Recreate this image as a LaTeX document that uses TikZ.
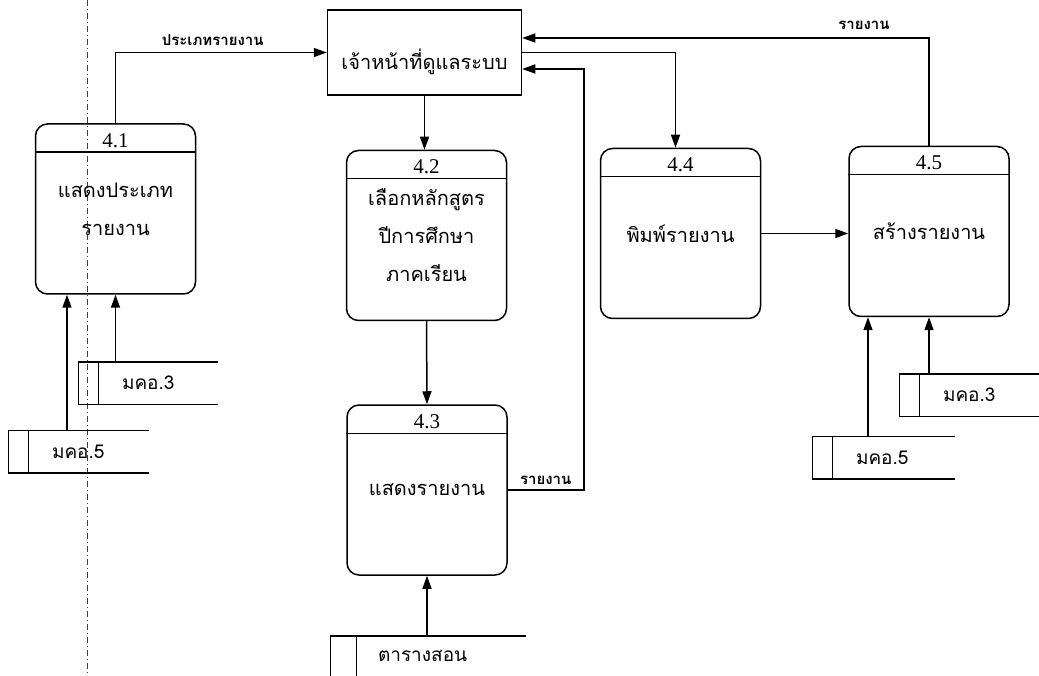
\documentclass[tikz,border=0pt]{standalone}
\usepackage{fontspec}
\setmainfont{Liberation Serif}
\newfontfamily\thai[Script=Thai]{Loma}
\usetikzlibrary{arrows.meta}

\begin{document}
\begin{tikzpicture}[x=1pt, y=-1pt, line width=1.5pt,
  flow/.style={-{Triangle[length=13pt,width=9pt]}},
  process/.style={draw, rounded corners=12pt, minimum width=160pt, minimum height=170pt, align=center, inner sep=0pt, font=\thai\fontsize{20}{38}\selectfont},
  entity/.style={draw, minimum width=194pt, minimum height=85pt, inner sep=0pt, text height=35pt, text depth=0pt, font=\thai\fontsize{20}{20}\selectfont},
  num/.style={inner sep=0pt, font=\fontsize{21}{21}\selectfont},
  store/.style={minimum height=41pt, inner sep=0pt,
    append after command={(\tikzlastnode.north east) edge (\tikzlastnode.north west)
      (\tikzlastnode.north west) edge (\tikzlastnode.south west)
      (\tikzlastnode.south west) edge (\tikzlastnode.south east)
      ([xshift=#1]\tikzlastnode.north west) edge ([xshift=#1]\tikzlastnode.south west)}},
  store/.default=20pt,
  storetext/.style={anchor=west, inner sep=0pt, font=\thai\fontsize{19}{19}\selectfont},
  flowtext/.style={inner sep=0pt, font=\thai\bfseries\fontsize{15}{15}\selectfont},
  scanline/.style={line width=0.6pt, black!75, dash pattern=on 6pt off 3pt on 1pt off 3pt}]
\useasboundingbox (0,0) rectangle (1039,676);
\draw[scanline] (87,0) -- (87,676);

\node[entity] (ent) at (424.5,52.5){เจ้าหน้าที่ดูแลระบบ};

\node[process] (p41) at (115.5,209){แสดงประเภท\\รายงาน};
\node[num] (n41) at ([yshift=-17pt]p41.north){4.1};
\draw ([yshift=-29pt]p41.north west) -- ([yshift=-29pt]p41.north east);
\node[process] (p42) at (426.5,235.5){เลือกหลักสูตร\\ปีการศึกษา\\ภาคเรียน};
\node[num] (n42) at ([yshift=-17pt]p42.north){4.2};
\draw ([yshift=-29pt]p42.north west) -- ([yshift=-29pt]p42.north east);
\node[process] (p43) at (427,490){แสดงรายงาน};
\node[num] (n43) at ([yshift=-17pt]p43.north){4.3};
\draw ([yshift=-29pt]p43.north west) -- ([yshift=-29pt]p43.north east);
\node[process] (p44) at (680.5,233.5){พิมพ์รายงาน};
\node[num] (n44) at ([yshift=-17pt]p44.north){4.4};
\draw ([yshift=-29pt]p44.north west) -- ([yshift=-29pt]p44.north east);
\node[process] (p45) at (929,231.5){สร้างรายงาน};
\node[num] (n45) at ([yshift=-17pt]p45.north){4.5};
\draw ([yshift=-29pt]p45.north west) -- ([yshift=-29pt]p45.north east);

\node[store, minimum width=138pt, label={[storetext, xshift=43pt]west:มคอ.3}] (ds3l) at (148,383){};
\node[store, minimum width=139pt, label={[storetext, xshift=43pt]west:มคอ.5}] (ds5l) at (78.5,451.5){};
\node[store, minimum width=140pt, label={[storetext, xshift=43pt]west:มคอ.3}] (ds3r) at (970,395){};
\node[store, minimum width=141pt, label={[storetext, xshift=43pt]west:มคอ.5}] (ds5r) at (883.5,457.5){};
\node[store=26pt, minimum width=194pt, minimum height=39pt, label={[storetext, xshift=47pt]west:ตารางสอน}] (dst) at (428,656){};

\draw[flow] (p41.north) |- (ent.west) node[flowtext, pos=0.73, above=6pt] (l41){ประเภทรายงาน};
\draw[flow] (ent.south) -- (ent.south |- p42.north);
\draw[flow] (p42.south) -- (p43.north);
\draw[flow] (ent.east) -| ([xshift=-5pt]p44.north);
\draw[flow] (p44.east) -- (p44.east -| p45.west);
\draw[flow] (p45.north) |- ([yshift=14.5pt]ent.east) node[flowtext, pos=0.58, above=8pt] (l45){รายงาน};
\draw[flow] (p43.east) -- ++(76,0) node[flowtext, midway, above=5pt] (l43){รายงาน} |- ([yshift=-16.5pt]ent.east);

\draw[flow] (p41.south |- ds3l.north) -- (p41.south);
\draw[flow] ([xshift=-11.5pt]ds5l.north) -- ([xshift=-11.5pt]ds5l.north |- p41.south);
\draw[flow] (p43.south |- dst.north) -- (p43.south);
\draw[flow] (p45.south |- ds3r.north) -- (p45.south);
\draw[flow] ([xshift=-15.5pt]ds5r.north) -- ([xshift=-15.5pt]ds5r.north |- p45.south);
\end{tikzpicture}
\end{document}
